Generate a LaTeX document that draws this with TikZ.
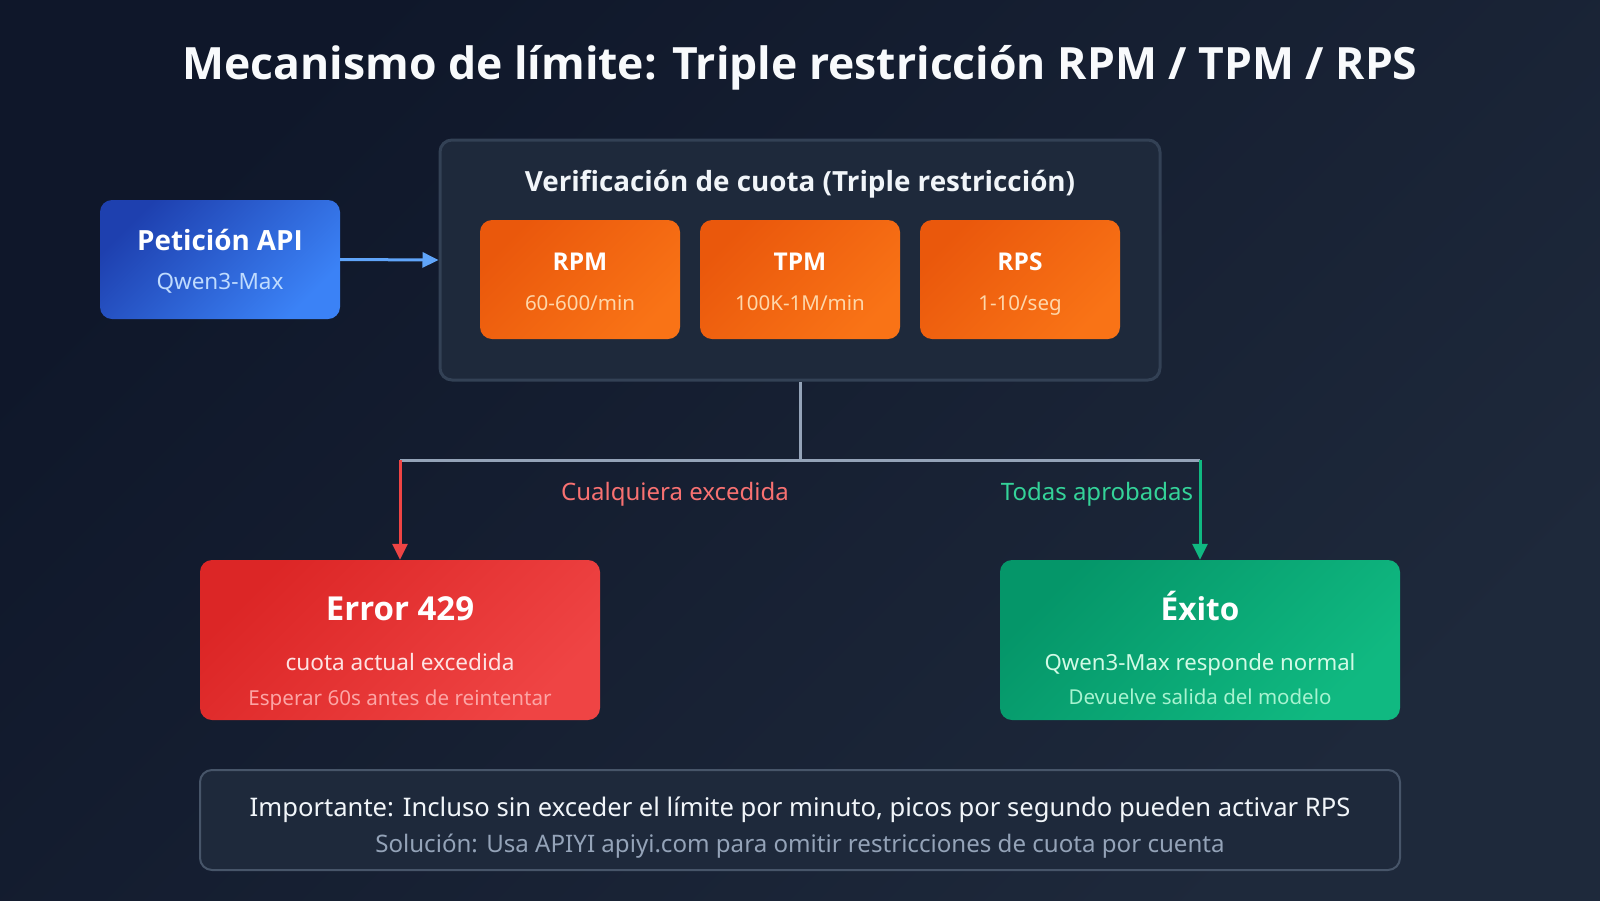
\documentclass[tikz,border=0pt]{standalone}
\usepackage{fontspec}
\setmainfont{Noto Sans}
\newfontfamily\hfont{Open Sans}
\usetikzlibrary{arrows.meta,positioning,calc}
\definecolor{bgA}{HTML}{0F172A}
\definecolor{bgB}{HTML}{1E293B}
\definecolor{panel}{HTML}{1E293B}
\definecolor{panelline}{HTML}{334155}
\definecolor{noteline}{HTML}{475569}
\definecolor{blueA}{HTML}{1E40AF}
\definecolor{blueB}{HTML}{3B82F6}
\definecolor{bluetxt}{HTML}{BFDBFE}
\definecolor{bluearrow}{HTML}{60A5FA}
\definecolor{orA}{HTML}{EA580C}
\definecolor{orB}{HTML}{F97316}
\definecolor{ortxt}{HTML}{FED7AA}
\definecolor{redA}{HTML}{DC2626}
\definecolor{redB}{HTML}{EF4444}
\definecolor{redtxt}{HTML}{FEE2E2}
\definecolor{redtxtb}{HTML}{FCA5A5}
\definecolor{redlabel}{HTML}{F87171}
\definecolor{grA}{HTML}{059669}
\definecolor{grB}{HTML}{10B981}
\definecolor{grtxt}{HTML}{D1FAE5}
\definecolor{grtxtb}{HTML}{A7F3D0}
\definecolor{grlabel}{HTML}{34D399}
\definecolor{graylink}{HTML}{94A3B8}
\definecolor{titlecol}{HTML}{F8FAFC}
\definecolor{notetxt}{HTML}{F1F5F9}
\definecolor{notesub}{HTML}{94A3B8}
\tikzset{
  fs/.style={font=\fontsize{#1}{#1}\selectfont},
  fsb/.style={font=\hfont\fontsize{#1}{#1}\selectfont\bfseries},
  boxbase/.style={rounded corners=12pt, inner sep=0pt, draw=none},
  gradbox/.style 2 args={boxbase, top color=#1, bottom color=#2, shading angle=45},
  txt/.style={inner sep=0pt, anchor=center},
  linkline/.style={line width=3pt},
  tip/.style={-{Triangle[length=16pt,width=15pt]}},
}
\begin{document}
\begin{tikzpicture}[x=1pt,y=-1pt]
\useasboundingbox (0,0) rectangle (1600,900);
\shade[top color=bgA, bottom color=bgB, shading angle=45] (0,0) rectangle (1600,900);

% title
\node[txt, fsb=44.5, text=titlecol] (title) at (800,68) {Mecanismo de límite: Triple restricción RPM / TPM / RPS};

% request box
\node[gradbox={blueA}{blueB}, minimum width=240pt, minimum height=119pt] (req) at (220,259.5) {};
\node[txt, fsb=27.8, text=white] (reqt) at (220,240) {Petición API};
\node[txt, fs=22.5, text=bluetxt] (reqs) at (220,283) {Qwen3-Max};

% main check box
\node[boxbase, draw=panelline, line width=3pt, fill=panel, minimum width=720pt, minimum height=240pt] (chk) at (800,260) {};
\node[txt, fsb=27.8, text=notetxt] (chkt) at (800,184) {Verificación de cuota (Triple restricción)};

\node[gradbox={orA}{orB}, minimum width=200pt, minimum height=119pt] (rpm) at (580,279.5) {};
\node[gradbox={orA}{orB}, minimum width=200pt, minimum height=119pt] (tpm) at (800,279.5) {};
\node[gradbox={orA}{orB}, minimum width=200pt, minimum height=119pt] (rps) at (1020,279.5) {};
\node[txt, fsb=24.5, text=white] (rpmt) at (580,262) {RPM};
\node[txt, fsb=24.5, text=white] (tpmt) at (800,262) {TPM};
\node[txt, fsb=24.5, text=white] (rpst) at (1020,262) {RPS};
\node[txt, fs=20.5, text=ortxt] (rpmv) at (580,303) {60-600/min};
\node[txt, fs=20.5, text=ortxt] (tpmv) at (800,303) {100K-1M/min};
\node[txt, fs=20.5, text=ortxt] (rpsv) at (1020,306) {1-10/seg};

% arrow request -> check
\draw[linkline, draw=bluearrow, tip] (req.east) -- (chk.west);

% split lines
\coordinate (jm) at (800,460);
\coordinate (jl) at (400,460);
\coordinate (jr) at (1200,460);
\draw[linkline, draw=graylink] (chk.south) -- (jm);
\draw[linkline, draw=graylink] (jl) -- (jr);

% result boxes
\node[gradbox={redA}{redB}, minimum width=400pt, minimum height=160pt] (err) at (400,640) {};
\node[gradbox={grA}{grB}, minimum width=400pt, minimum height=160pt] (ok) at (1200,640) {};

\draw[linkline, draw=redB, tip] (jl) -- (err.north);
\draw[linkline, draw=grB, tip] (jr) -- (ok.north);

\node[txt, fs=24, text=redlabel] (lblerr) at (675,494) {Cualquiera excedida};
\node[txt, fs=24, text=grlabel] (lblok) at (1097,494) {Todas aprobadas};

\node[txt, fsb=33, text=white] (errt) at (400,609) {Error 429};
\node[txt, fs=22.6, text=redtxt] (errs) at (400,662) {cuota actual excedida};
\node[txt, fs=20.6, text=redtxtb] (errs2) at (400,700) {Esperar 60s antes de reintentar};

\node[txt, fsb=31.5, text=white] (okt) at (1200,606) {Éxito};
\node[txt, fs=22.2, text=grtxt] (oks) at (1200,665) {Qwen3-Max responde normal};
\node[txt, fs=20.5, text=grtxtb] (oks2) at (1200,697) {Devuelve salida del modelo};

% note box
\node[boxbase, draw=noteline, line width=2pt, fill=panel, minimum width=1200pt, minimum height=100pt] (note) at (800,820) {};
\node[txt, fs=25.6, text=notetxt] (notet) at (800,810) {Importante: Incluso sin exceder el límite por minuto, picos por segundo pueden activar RPS};
\node[txt, fs=24.1, text=notesub] (notes) at (800,846) {Solución: Usa APIYI apiyi.com para omitir restricciones de cuota por cuenta};
\end{tikzpicture}
\end{document}
